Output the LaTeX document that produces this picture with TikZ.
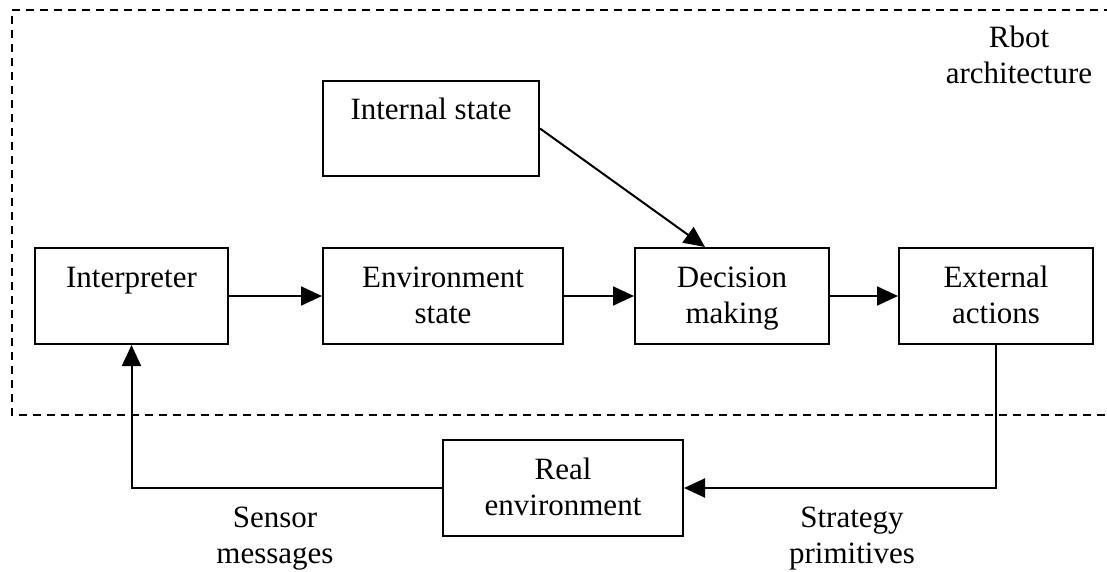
\documentclass[tikz,border=0pt]{standalone}
\usepackage{fontspec}
\setmainfont{Liberation Serif}
\usetikzlibrary{arrows.meta,calc}
\begin{document}
\begin{tikzpicture}[x=1pt,y=-1pt,
  box/.style={draw,line width=2pt,inner sep=0pt,minimum height=96pt},
  txt/.style={anchor=base,inner sep=0pt,font=\fontsize{31}{36}\selectfont},
  conn/.style={line width=2pt,-{Triangle[length=21pt,width=19pt]}},
  frame/.style={line width=2pt,dash pattern=on 8pt off 6pt}]
\useasboundingbox (0,0) rectangle (1107,571);

% architecture boundary (open to the right)
\draw[frame] (1112,10) -- (12,10) -- (12,415) -- (1112,415);
\node[txt] (rbotA) at (1019,47) {Rbot};
\node[txt] (rbotB) at (1019,83) {architecture};

% blocks
\node[box,minimum width=193pt] (interp) at (131.5,296) {};
\node[box,minimum width=240pt] (env) at (443,296) {};
\node[box,minimum width=194pt] (dec) at (732,296) {};
\node[box,minimum width=194pt] (ext) at (996,296) {};
\node[box,minimum width=216pt,minimum height=95pt] (intst) at (431,128.5) {};
\node[box,minimum width=240pt] (real) at (563,488) {};

% block texts
\node[txt] (interpA) at ($(interp.north)+(0,40)$) {Interpreter};
\node[txt] (envA) at ($(env.north)+(0,40)$) {Environment};
\node[txt] (envB) at ($(env.north)+(0,76)$) {state};
\node[txt] (decA) at ($(dec.north)+(0,40)$) {Decision};
\node[txt] (decB) at ($(dec.north)+(0,76)$) {making};
\node[txt] (extA) at ($(ext.north)+(0,40)$) {External};
\node[txt] (extB) at ($(ext.north)+(0,76)$) {actions};
\node[txt] (intstA) at ($(intst.north)+(0,39)$) {Internal state};
\node[txt] (realA) at ($(real.north)+(0,40)$) {Real};
\node[txt] (realB) at ($(real.north)+(0,76)$) {environment};

% loop labels
\node[txt] (sensA) at (275,527) {Sensor};
\node[txt] (sensB) at (275,563) {messages};
\node[txt] (stratA) at (852,527) {Strategy};
\node[txt] (stratB) at (852,563) {primitives};

% connectors
\draw[conn] (interp) -- (env);
\draw[conn] (env) -- (dec);
\draw[conn] (dec) -- (ext);
\draw[conn] (intst.east) -- ([xshift=-27pt]dec.north);
\draw[conn] (ext.south) |- (real.east);
\draw[conn] (real.west) -| (interp.south);
\end{tikzpicture}
\end{document}
